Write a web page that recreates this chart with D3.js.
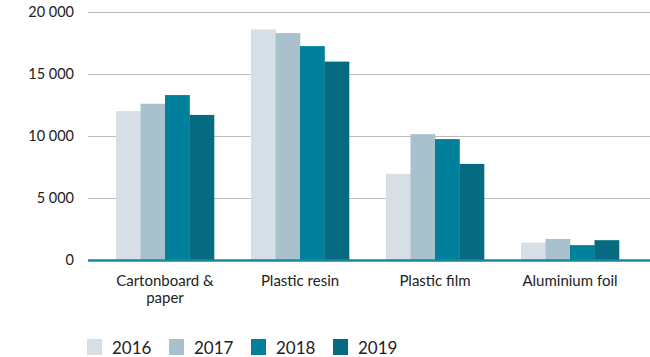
<!DOCTYPE html>
<html>
<head>
<meta charset="utf-8">
<script src="https://cdn.jsdelivr.net/npm/d3@7"></script>
<style>
  html, body { margin: 0; padding: 0; background: #fff; }
  svg { display: block; font-family: "Lato", "Open Sans", sans-serif; }
</style>
</head>
<body>
<svg id="chart" width="650" height="357"></svg>
<script>
const categories = [["Cartonboard &", "paper"], ["Plastic resin"], ["Plastic film"], ["Aluminium foil"]];
const years = ["2016", "2017", "2018", "2019"];
const values2016 = [12000, 18600, 6950, 1400];
const values2017 = [12600, 18300, 10150, 1700];
const values2018 = [13300, 17250, 9750, 1200];
const values2019 = [11700, 16000, 7750, 1600];
const series = [values2016, values2017, values2018, values2019];
const colors = ["#d5dfe5", "#a8c1cc", "#00809b", "#066b80"];
const yTicks = [0, 5000, 10000, 15000, 20000];

const svg = d3.select("#chart");
const catIdx = categories.map((d, i) => i);

const x = d3.scaleBand().domain(catIdx).range([97.5, 637.5]).paddingInner(0.274).paddingOuter(0.137);
const xs = d3.scaleBand().domain(years).range([0, x.bandwidth()]);
const y = d3.scaleLinear().domain([0, 20000]).range([260, 12]);

const fmt = v => d3.format(",")(v).replace(/,/g, " ");

// gridlines
svg.append("g").selectAll("line").data(yTicks.filter(t => t > 0)).join("line")
  .attr("x1", 88).attr("x2", 650)
  .attr("y1", d => y(d) + 0.5).attr("y2", d => y(d) + 0.5)
  .attr("stroke", "#bdbdbd").attr("stroke-width", 1.2);

// y labels
svg.append("g").selectAll("text").data(yTicks).join("text")
  .attr("x", 74).attr("y", d => y(d) + 5)
  .attr("text-anchor", "end")
  .attr("font-size", 14.5).attr("fill", "#222")
  .text(d => d === 0 ? "0" : fmt(d));

// bars
const groups = svg.append("g").selectAll("g").data(catIdx).join("g")
  .attr("transform", i => `translate(${x(i)},0)`);
groups.selectAll("rect").data(i => years.map((yr, s) => ({yr, s, v: series[s][i]}))).join("rect")
  .attr("x", d => xs(d.yr))
  .attr("width", xs.bandwidth() + 0.3)
  .attr("y", d => y(d.v))
  .attr("height", d => y(0) - y(d.v))
  .attr("fill", d => colors[d.s]);

// baseline
svg.append("line").attr("x1", 88).attr("x2", 650).attr("y1", 260.5).attr("y2", 260.5)
  .attr("stroke", "#1a86a0").attr("stroke-width", 2.5);

// x labels
const xl = svg.append("g").selectAll("text").data(catIdx).join("text")
  .attr("text-anchor", "middle").attr("font-size", 15).attr("fill", "#222")
  .attr("x", i => x(i) + x.bandwidth() / 2).attr("y", 286);
xl.selectAll("tspan").data(i => categories[i].map((t, k) => ({t, k, cx: x(i) + x.bandwidth() / 2}))).join("tspan")
  .attr("x", d => d.cx).attr("dy", d => d.k === 0 ? 0 : 17).text(d => d.t);

// legend
const lg = svg.append("g").selectAll("g").data(years).join("g")
  .attr("transform", (d, i) => `translate(${87 + i * 82},339)`);
lg.append("rect").attr("width", 15).attr("height", 16).attr("fill", (d, i) => colors[i]);
lg.append("text").attr("x", 25).attr("y", 15).attr("font-size", 17).attr("fill", "#222").text(d => d);
</script>
</body>
</html>
